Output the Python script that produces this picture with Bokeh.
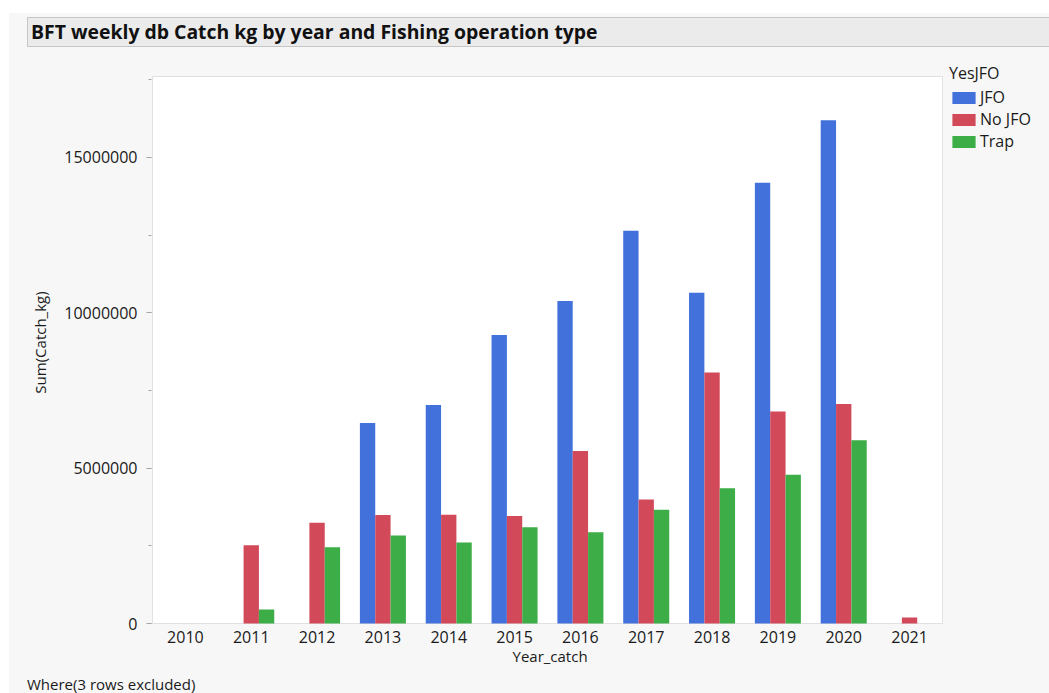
from bokeh.plotting import figure
from bokeh.layouts import column
from bokeh.models import (Range1d, SingleIntervalTicker, BasicTickFormatter, FixedTicker,
                          Legend, LegendItem, ColumnDataSource, Div, Title, BoxAnnotation)
from bokeh.transform import dodge
from bokeh.embed import file_html
from bokeh.resources import INLINE

# ---- data ----
years = ["2010", "2011", "2012", "2013", "2014", "2015",
         "2016", "2017", "2018", "2019", "2020", "2021"]
jfo = [0, 0, 0, 6450000, 7030000, 9280000, 10380000, 12640000,
       10640000, 14180000, 16190000, 0]
no_jfo = [0, 2520000, 3240000, 3490000, 3500000, 3460000, 5550000,
          3990000, 8080000, 6820000, 7060000, 190000]
trap = [0, 450000, 2450000, 2830000, 2610000, 3100000, 2940000,
        3660000, 4350000, 4790000, 5900000, 0]
series_names = ["JFO", "No JFO", "Trap"]
y_tick_interval = 5000000
y_axis_top = 17600000

title_text = "BFT weekly db Catch kg by year and Fishing operation type"
footnote_text = "Where(3 rows excluded)"
legend_title = "YesJFO"
x_title = "Year_catch"
y_title = "Sum(Catch_kg)"

colors = ["#4271DC", "#D24A5A", "#3DAD47"]
FONT = "Open Sans"
PANEL = "#f7f7f7"

idx = list(range(len(years)))
src = ColumnDataSource(dict(idx=idx, JFO=jfo, NoJFO=no_jfo, Trap=trap))

# the frame also covers the legend area on the right; the white plot box is drawn
# as an underlay box spanning the categories and 0..y_axis_top
p = figure(x_range=Range1d(-0.5152, 13.126),
           y_range=Range1d(-32000, 18115000),
           width=1040, height=629,
           min_border_left=142, min_border_right=0,
           min_border_top=13, min_border_bottom=52,
           output_backend="svg", toolbar_location=None)

p.background_fill_color = PANEL
p.border_fill_color = PANEL
p.outline_line_color = None
p.xgrid.visible = False
p.ygrid.visible = False

plot_box = BoxAnnotation(left=-0.5, right=len(years) - 0.5, bottom=0, top=y_axis_top,
                         fill_color="white", fill_alpha=1,
                         line_color="#a6a6a6", line_width=1, level="underlay")
p.add_layout(plot_box)

bw = 0.233
cols = ["JFO", "NoJFO", "Trap"]
offs = [-bw, 0, bw]
renderers = []
for c, o, col in zip(cols, offs, colors):
    r = p.vbar(x=dodge("idx", o), top=c, width=bw,
               source=src, fill_color=col, line_color=None)
    renderers.append(r)

# axes
p.yaxis.ticker = SingleIntervalTicker(interval=y_tick_interval, num_minor_ticks=2)
p.yaxis.formatter = BasicTickFormatter(use_scientific=False)
p.xaxis.ticker = FixedTicker(ticks=idx)
p.xaxis.major_label_overrides = {i: y for i, y in zip(idx, years)}
for ax in (p.xaxis[0], p.yaxis[0]):
    ax.axis_line_color = None
    ax.major_tick_line_color = "#a6a6a6"
    ax.minor_tick_line_color = "#a6a6a6"
    ax.major_label_text_font = FONT
    ax.major_label_text_font_size = "16px"
    ax.major_label_text_color = "#1a1a1a"
    ax.axis_label_text_font = FONT
    ax.axis_label_text_font_size = "15px"
    ax.axis_label_text_font_style = "normal"
    ax.axis_label_text_color = "#1a1a1a"

p.yaxis.major_tick_out = 5
p.yaxis.major_tick_in = 0
p.yaxis.minor_tick_out = 3
p.yaxis.minor_tick_in = 0
p.yaxis.major_label_standoff = 9
p.yaxis.axis_label = y_title
p.yaxis.axis_label_standoff = 11

p.xaxis.major_tick_line_color = None
p.xaxis.minor_tick_line_color = None
p.xaxis.major_tick_out = 0
p.xaxis.minor_tick_out = 0
p.xaxis.major_label_standoff = 6

# x-axis title, centred under the plot box (not under the wider frame)
p.add_layout(Title(text=x_title, align="left", offset=361,
                   vertical_align="top", standoff=0,
                   text_font=FONT, text_font_size="15px",
                   text_font_style="normal", text_color="#1a1a1a"), "below")

# legend (location = bottom-left corner in frame pixels, y up)
legend = Legend(items=[LegendItem(label=n, renderers=[r]) for n, r in zip(series_names, renderers)],
                title=legend_title,
                location=(798, 472),
                glyph_width=29, glyph_height=15,
                label_height=15, spacing=0,
                label_standoff=2, padding=0, margin=0,
                title_standoff=2,
                label_text_font=FONT, label_text_font_size="16px",
                label_text_color="#1a1a1a",
                title_text_font=FONT, title_text_font_size="16px",
                title_text_font_style="normal", title_text_color="#1a1a1a",
                background_fill_alpha=0, border_line_color=None)
p.add_layout(legend, "center")

title_div = Div(text=title_text, width=1022, height=30, margin=(4, 0, 0, 18),
                styles={"background-color": "#ebebeb",
                        "border": "1px solid #c6c6c6", "border-right": "none",
                        "box-sizing": "border-box",
                        "font-family": FONT, "font-weight": "bold",
                        "font-size": "19.4px", "color": "#111111",
                        "padding-left": "3px", "line-height": "28px",
                        "white-space": "nowrap", "overflow": "hidden"})

foot_div = Div(text=footnote_text, width=400, height=17, margin=(0, 0, 0, 18),
               styles={"font-family": FONT, "font-size": "15px", "color": "#1a1a1a",
                       "line-height": "17px", "white-space": "nowrap"})

root = column(title_div, p, foot_div, spacing=0, margin=(13, 0, 0, 9),
              styles={"background-color": PANEL})

open("out.html", "w").write(file_html(root, INLINE))
